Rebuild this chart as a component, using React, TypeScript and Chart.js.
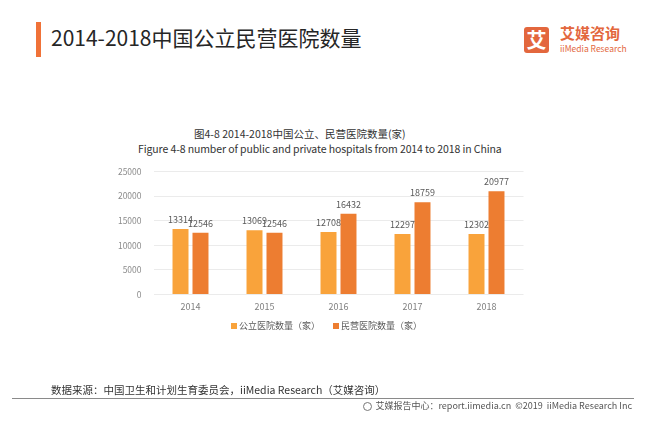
import React, { useEffect, useRef } from "react";
import { Chart, registerables } from "chart.js";

Chart.register(...registerables);

const categories = ["2014", "2015", "2016", "2017", "2018"];
const publicHospitals = [13314, 13069, 12708, 12297, 12302];
const privateHospitals = [12546, 12546, 16432, 18759, 20977];
const seriesNames = ["公立医院数量（家）", "民营医院数量（家）"];
const yMin = 0;
const yMax = 25000;
const yStep = 5000;

const PUBLIC_COLOR = "#F9A33B";
const PRIVATE_COLOR = "#ED7D31";
const LOGO_COLOR = "#E3673D";
const FONT = '"Noto Sans CJK SC", "Noto Sans", sans-serif';

const dataLabelPlugin = {
  id: "dataLabels",
  afterDatasetsDraw(chart: any) {
    const ctx = chart.ctx;
    ctx.save();
    ctx.font = `9px ${FONT}`;
    ctx.fillStyle = "#595959";
    ctx.textAlign = "center";
    ctx.textBaseline = "alphabetic";
    chart.data.datasets.forEach((ds: any, i: number) => {
      const meta = chart.getDatasetMeta(i);
      meta.data.forEach((el: any, j: number) => {
        ctx.fillText(String(ds.data[j]), el.x, el.y - 6);
      });
    });
    ctx.restore();
  },
};

function BarChart() {
  const ref = useRef<HTMLCanvasElement | null>(null);
  useEffect(() => {
    if (!ref.current) return;
    const chart = new Chart(ref.current, {
      type: "bar",
      data: {
        labels: categories,
        datasets: [
          {
            label: seriesNames[0],
            data: publicHospitals,
            backgroundColor: PUBLIC_COLOR,
            categoryPercentage: 0.54,
            barPercentage: 0.8,
          },
          {
            label: seriesNames[1],
            data: privateHospitals,
            backgroundColor: PRIVATE_COLOR,
            categoryPercentage: 0.54,
            barPercentage: 0.8,
          },
        ],
      },
      options: {
        animation: false,
        responsive: false,
        maintainAspectRatio: false,
        devicePixelRatio: 1,
        layout: {
          padding: { left: 100, right: 144.5, top: 171.5, bottom: 112.5 },
        },
        plugins: {
          legend: { display: false },
          title: { display: false },
          tooltip: { enabled: false },
        },
        scales: {
          x: {
            grid: { display: false, drawTicks: false },
            border: { display: false },
            ticks: {
              color: "#7f7f7f",
              font: { family: FONT, size: 9 },
              padding: 7,
            },
            afterFit: (s: any) => {
              s.height = 20;
            },
          },
          y: {
            min: yMin,
            max: yMax,
            grid: { color: "#ebebeb", drawTicks: false, lineWidth: 1 },
            border: { display: false },
            ticks: {
              stepSize: yStep,
              color: "#8c8c8c",
              font: { family: FONT, size: 8.5 },
              padding: 12,
              callback: (v: any) => String(v),
            },
            afterFit: (s: any) => {
              s.width = 53.5;
            },
          },
        },
      },
      plugins: [dataLabelPlugin],
    });
    return () => chart.destroy();
  }, []);
  return (
    <canvas
      ref={ref}
      width={668}
      height={427}
      style={{ position: "absolute", left: 0, top: 0, width: 668, height: 427 }}
    />
  );
}

const abs = (left: number, top: number, extra: any = {}) => ({
  position: "absolute" as const,
  left,
  top,
  whiteSpace: "nowrap" as const,
  fontFamily: FONT,
  ...extra,
});

export default function App() {
  return (
    <div
      style={{
        position: "absolute",
        left: 0,
        top: 0,
        width: 668,
        height: 427,
        background: "#fff",
        overflow: "hidden",
      }}
    >
      {/* header */}
      <div style={abs(36, 22, { width: 5, height: 35, background: "#F07238" })} />
      <div style={abs(51, 27, { fontSize: 21, lineHeight: "21px", color: "#262626" })}>
        2014-2018中国公立民营医院数量
      </div>
      {/* logo */}
      <div
        style={abs(524, 26.5, {
          width: 25,
          height: 26,
          background: LOGO_COLOR,
          borderRadius: 3,
          color: "#fff",
          fontSize: 20,
          fontWeight: 700,
          lineHeight: "26px",
          textAlign: "center",
        })}
      >
        艾
      </div>
      <div style={abs(560, 25, { fontSize: 15, lineHeight: "15px", fontWeight: 700, color: LOGO_COLOR })}>
        艾媒咨询
      </div>
      <div style={abs(560, 43.5, { fontSize: 8.5, lineHeight: "9px", color: LOGO_COLOR })}>
        iiMedia Research
      </div>

      {/* chart title */}
      <div style={abs(194, 127.5, { fontSize: 10.5, lineHeight: "11px", color: "#333" })}>
        图4-8 2014-2018中国公立、民营医院数量(家)
      </div>
      <div style={abs(138, 142.5, { fontSize: 10.5, lineHeight: "11px", color: "#333", letterSpacing: -0.1 })}>
        Figure 4-8 number of public and private hospitals from 2014 to 2018 in China
      </div>

      <BarChart />

      {/* legend */}
      <div style={abs(231, 322.5, { width: 6, height: 6, background: PUBLIC_COLOR })} />
      <div style={abs(239, 321, { fontSize: 9, lineHeight: "9px", color: "#595959" })}>
        {seriesNames[0]}
      </div>
      <div style={abs(333, 322.5, { width: 6, height: 6, background: PRIVATE_COLOR })} />
      <div style={abs(341, 321, { fontSize: 9, lineHeight: "9px", color: "#595959" })}>
        {seriesNames[1]}
      </div>

      {/* footer */}
      <div style={abs(51, 383.5, { fontSize: 10.5, lineHeight: "11px", color: "#333" })}>
        数据来源：中国卫生和计划生育委员会，iiMedia Research（艾媒咨询）
      </div>
      <div style={abs(12, 397.5, { width: 622, height: 1.5, background: "#8a8a8a" })} />
      <div
        style={abs(0, 401, {
          left: "auto",
          right: 36,
          fontSize: 9,
          lineHeight: "10px",
          color: "#555",
          display: "flex",
          alignItems: "center",
        })}
      >
        <span
          style={{
            display: "inline-block",
            width: 7,
            height: 7,
            borderRadius: "50%",
            border: "1.5px solid #777",
            marginRight: 3,
          }}
        />
        艾媒报告中心：report.iimedia.cn&nbsp;&nbsp;©2019&nbsp;&nbsp;iiMedia Research Inc
      </div>
    </div>
  );
}
